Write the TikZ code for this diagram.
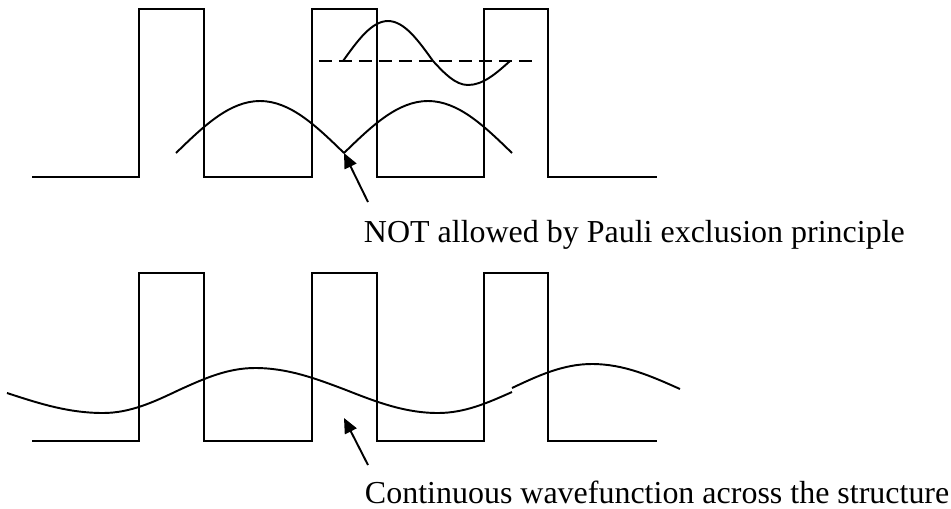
\documentclass[tikz,border=0pt]{standalone}
\usepackage{fontspec}
\setmainfont{Liberation Serif}
\usetikzlibrary{arrows.meta}

\begin{document}
\begin{tikzpicture}[x=0.02cm, y=-0.02cm, line width=1.1pt,
  wave/.style={line join=round},
  pointer/.style={-{Triangle[length=0.3cm, width=0.26cm]}},
  caption/.style={anchor=base west, inner sep=0pt, font=\fontsize{18.2}{21}\selectfont}]
\useasboundingbox (0,0) rectangle (951,508);

% Potential profile (top)
\draw (32,177) -- (139,177) -- (139,9) -- (204,9) -- (204,177) -- (312,177) -- (312,9)
  -- (377,9) -- (377,177) -- (484,177) -- (484,9) -- (548,9) -- (548,177) -- (657,177);

% Ground state humps
\draw[wave] (176,153) sin (260,101) cos (344,153) sin (428,101) cos (512,153);

% Excited state and its energy level
\draw[dash pattern=on 0.26cm off 0.14cm] (319,61) -- (532,61);
\draw[wave] (343,61) sin (388,21) cos (433,61) sin (468,85) cos (510,61);

% Potential profile (bottom)
\draw (32,441) -- (139,441) -- (139,273) -- (204,273) -- (204,441) -- (312,441) -- (312,273)
  -- (377,273) -- (377,441) -- (484,441) -- (484,273) -- (548,273) -- (548,441) -- (657,441);

% Extended wavefunction
\draw[wave] (7,393) sin (103,413) cos (179,390) sin (255,368) cos (346,390) sin (438,413) cos (512,392);
\draw[wave] (512,388) sin (592,364) cos (680,389);

% Labels
\node[caption] (pauli) at (363,242) {NOT allowed by Pauli exclusion principle};
\node[caption] (cont) at (364,503) {Continuous wavefunction across the structure};

% Pointers
\coordinate (cusp) at (344,153);
\coordinate (pauliarrow) at (368,202);
\coordinate (bottomwave) at (344,418);
\coordinate (contarrow) at (368,465);
\draw[pointer] (pauliarrow) -- (cusp);
\draw[pointer] (contarrow) -- (bottomwave);
\end{tikzpicture}
\end{document}
